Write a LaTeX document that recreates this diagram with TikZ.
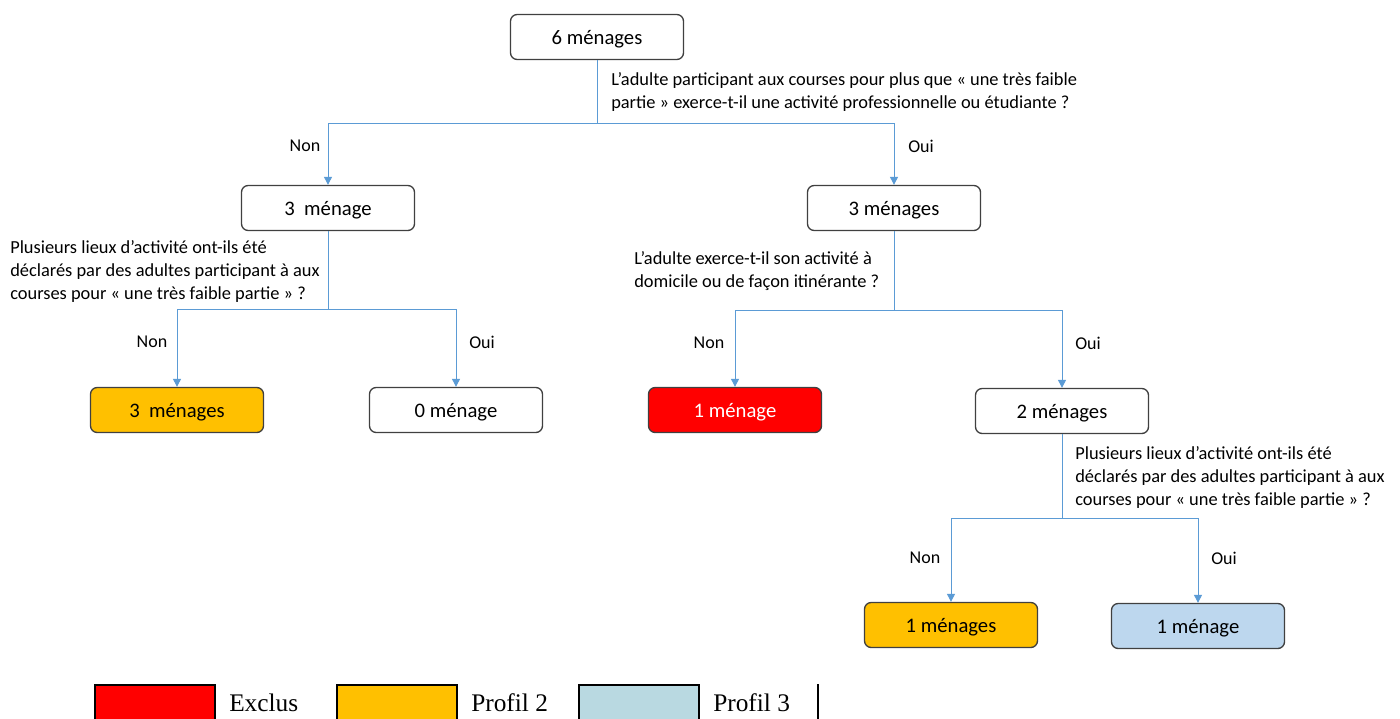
\documentclass[tikz,border=0pt]{standalone}
\usepackage{fontspec}
\setmainfont{Carlito}
\newfontfamily\legendfont{Liberation Serif}
\usetikzlibrary{arrows.meta}
\definecolor{linkblue}{HTML}{5B9BD5}
\definecolor{exred}{HTML}{FF0000}
\definecolor{pforange}{HTML}{FFC000}
\definecolor{pfblue}{HTML}{BDD7EE}
\definecolor{lgblue}{HTML}{B9D9E1}
\definecolor{dkline}{HTML}{404040}

\tikzset{
  hbox/.style={draw=dkline, line width=1pt, rounded corners=5pt, fill=white,
    minimum width=173*0.75pt, minimum height=45*0.75pt, inner sep=0pt,
    text height=14pt, text depth=3.4pt,
    font=\fontsize{15.5}{18}\selectfont},
  link/.style={linkblue, line width=0.75pt, -{Triangle[length=6pt, width=6pt]}},
  trunk/.style={linkblue, line width=0.75pt},
  question/.style={anchor=north west, inner sep=0pt, align=left,
    font=\fontsize{13.8}{17.25}\selectfont},
  answer/.style={inner sep=0pt, font=\fontsize{13.5}{15}\selectfont},
  legendbox/.style={draw=black, line width=1.5pt, minimum width=120*0.75pt,
    minimum height=40*0.75pt, anchor=north west, inner sep=0pt}
}

\begin{document}
\begin{tikzpicture}[x=0.75pt, y=-0.75pt]
\useasboundingbox (0,0) rectangle (1400,718);

% ================================================================
% Households boxes
% ================================================================
\node[hbox] (all) at (597,37) {6 ménages};
\node[hbox] (nowork) at (328,208) {3\ \ ménage};
\node[hbox] (work) at (894,208) {3 ménages};
\node[hbox, fill=pforange] (nowork-non) at (177,410) {3\ \ ménages};
\node[hbox] (nowork-oui) at (456,410) {0 ménage};
\node[hbox, fill=exred, text=white] (work-non) at (735,410) {1 ménage};
\node[hbox] (work-oui) at (1062,411) {2 ménages};
\node[hbox, fill=pforange] (multi-non) at (951,625) {1 ménages};
\node[hbox, fill=pfblue] (multi-oui) at (1198,626) {1 ménage};

% ================================================================
% Junction points
% ================================================================
\coordinate (j1) at (597,123);
\coordinate (j2) at (328,309);
\coordinate (j3) at (894,310);
\coordinate (j4) at (1062,518);

% ================================================================
% Connectors
% ================================================================
\draw[trunk] (all.south) -- (j1);
\draw[link] (j1) -| (nowork.north);
\draw[link] (j1) -| (work.north);

\draw[trunk] (nowork.south) -- (j2);
\draw[link] (j2) -| (nowork-non.north);
\draw[link] (j2) -| (nowork-oui.north);

\draw[trunk] (work.south) -- (j3);
\draw[link] (j3) -| (work-non.north);
\draw[link] (j3) -| (work-oui.north);

\draw[trunk] (work-oui.south) -- (j4);
\draw[link] (j4) -| (multi-non.north);
\draw[link] (j4) -| (multi-oui.north);

% ================================================================
% Questions
% ================================================================
\node[question] (q1) at (611,72)
  {L’adulte participant aux courses pour plus que «\ une très faible\\
   partie\ » exerce-t-il une activité professionnelle ou étudiante ?};
\node[question] (q2) at (10,240)
  {Plusieurs lieux d’activité ont-ils été\\
   déclarés par des adultes participant à aux\\
   courses pour «\ une très faible partie\ » ?};
\node[question] (q3) at (634,251)
  {L’adulte exerce-t-il son activité à\\
   domicile ou de façon itinérante ?};
\node[question] (q4) at (1075,446)
  {Plusieurs lieux d’activité ont-ils été\\
   déclarés par des adultes participant à aux\\
   courses pour «\ une très faible partie\ » ?};

% ================================================================
% Answers
% ================================================================
\node[answer] (a1n) at (305,146) {Non};
\node[answer] (a1o) at (921,146) {Oui};
\node[answer] (a2n) at (152,342) {Non};
\node[answer] (a2o) at (482,342) {Oui};
\node[answer] (a3n) at (709,343) {Non};
\node[answer] (a3o) at (1088,343) {Oui};
\node[answer] (a4n) at (925,558) {Non};
\node[answer] (a4o) at (1224,558) {Oui};

% ================================================================
% Legend
% ================================================================
\node[legendbox, fill=exred] (lg-ex) at (94,684) {};
\node[legendbox, fill=pforange] (lg-p2) at (336,684) {};
\node[legendbox, fill=lgblue] (lg-p3) at (578,684) {};
\node[anchor=west, inner sep=0pt, font=\legendfont\fontsize{19}{22}\selectfont]
  (lt-ex) at (229,703) {Exclus};
\node[anchor=west, inner sep=0pt, font=\legendfont\fontsize{19}{22}\selectfont]
  (lt-p2) at (471,703) {Profil 2};
\node[anchor=west, inner sep=0pt, font=\legendfont\fontsize{19}{22}\selectfont]
  (lt-p3) at (713,703) {Profil 3};
\draw[black, line width=1.2pt] (818,684) -- (818,722);

\end{tikzpicture}
\end{document}
